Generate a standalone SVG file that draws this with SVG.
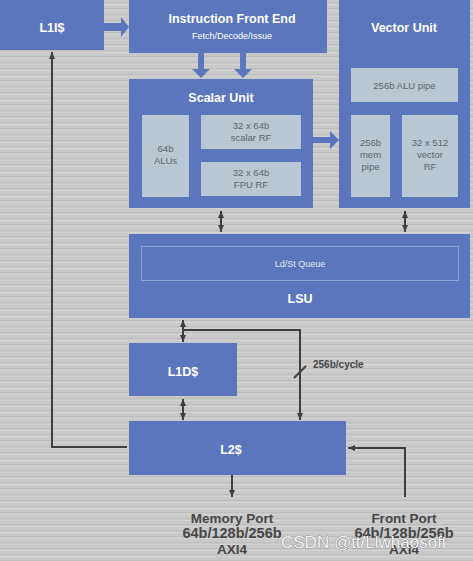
<svg xmlns="http://www.w3.org/2000/svg" width="473" height="561" viewBox="0 0 473 561">
<defs>
<style>
.blk{fill:#5b76bd}
.sub{fill:#b7c7d3}
.t{font-family:"Liberation Sans",Arial,sans-serif;fill:#ffffff;text-anchor:middle}
.tb{font-weight:bold;font-size:12.5px}
.ts{font-size:9px;fill:#ffffff}
.st{font-family:"Liberation Sans",Arial,sans-serif;font-size:9.5px;fill:#5a6670;text-anchor:middle}
.ln{stroke:#3f3f3f;stroke-width:2;fill:none}
.lbl{font-family:"Liberation Sans",Arial,sans-serif;font-weight:bold;fill:#474747;text-anchor:middle;font-size:13.5px}
</style>
<marker id="ah" markerWidth="8" markerHeight="8" refX="7" refY="4" orient="auto-start-reverse" markerUnits="userSpaceOnUse">
<path d="M0,1 L7,4 L0,7 Z" fill="#3f3f3f"/>
</marker>
<pattern id="bg" width="4" height="6" patternUnits="userSpaceOnUse">
<rect width="4" height="6" fill="#c9c9c9"/>
<rect y="2" width="4" height="1" fill="#bebebe"/>
<rect y="4" width="4" height="1" fill="#d3d3d3"/>
</pattern>
</defs>
<rect width="473" height="561" fill="url(#bg)"/>

<g id="connectors">
<path class="blk" d="M104,23 H121 V17 L129,27 L121,37 V31 H104 Z"/>
<path class="blk" d="M198,53 H204 V69 H210 L201,78 L192,69 H198 Z"/>
<path class="blk" d="M240,53 H246 V69 H252 L243,78 L234,69 H240 Z"/>
<path class="blk" d="M313,137 H330 V131 L339,140 L330,149 V143 H313 Z"/>
<line class="ln" x1="221" y1="211" x2="221" y2="232" marker-start="url(#ah)" marker-end="url(#ah)"/>
<line class="ln" x1="405" y1="211" x2="405" y2="232" marker-start="url(#ah)" marker-end="url(#ah)"/>
<line class="ln" x1="183" y1="320" x2="183" y2="342" marker-start="url(#ah)" marker-end="url(#ah)"/>
<line class="ln" x1="183" y1="399" x2="183" y2="420" marker-start="url(#ah)" marker-end="url(#ah)"/>
<path class="ln" d="M183,330 H300 V420" marker-end="url(#ah)"/>
<line class="ln" x1="294" y1="378" x2="306" y2="366"/>
<text class="lbl" x="313" y="368" style="font-size:10px;text-anchor:start">256b/cycle</text>
<path class="ln" d="M127,447 H52 V52" marker-end="url(#ah)"/>
<line class="ln" x1="232" y1="475" x2="232" y2="497" marker-end="url(#ah)"/>
<path class="ln" d="M405,497 V448 H348" marker-end="url(#ah)"/>
</g>

<g id="l1i">
<rect class="blk" x="0" y="0" width="104" height="50"/>
<text class="t tb" x="52" y="32">L1I$</text>
</g>

<g id="ife">
<rect class="blk" x="129" y="0" width="198" height="53"/>
<text class="t tb" x="232" y="23">Instruction Front End</text>
<text class="t ts" x="232" y="39">Fetch/Decode/Issue</text>
</g>

<g id="scalar">
<rect class="blk" x="129" y="79" width="184" height="129"/>
<text class="t tb" x="221" y="102">Scalar Unit</text>
<rect class="sub" x="142" y="115" width="47" height="82"/>
<text class="st" x="165.5" y="152">64b</text>
<text class="st" x="165.5" y="164">ALUs</text>
<rect class="sub" x="201" y="115" width="100" height="34"/>
<text class="st" x="251" y="129">32 x 64b</text>
<text class="st" x="251" y="141">scalar RF</text>
<rect class="sub" x="201" y="162" width="100" height="34"/>
<text class="st" x="251" y="176">32 x 64b</text>
<text class="st" x="251" y="188">FPU RF</text>
</g>

<g id="vector">
<rect class="blk" x="339" y="0" width="131" height="208"/>
<text class="t tb" x="404" y="32">Vector Unit</text>
<rect class="sub" x="351" y="68" width="107" height="34"/>
<text class="st" x="404.5" y="89">256b ALU pipe</text>
<rect class="sub" x="351" y="115" width="39" height="82"/>
<text class="st" x="370.5" y="146">256b</text>
<text class="st" x="370.5" y="158">mem</text>
<text class="st" x="370.5" y="170">pipe</text>
<rect class="sub" x="402" y="115" width="56" height="82"/>
<text class="st" x="430" y="146">32 x 512</text>
<text class="st" x="430" y="158">vector</text>
<text class="st" x="430" y="170">RF</text>
</g>

<g id="lsu">
<rect class="blk" x="129" y="234" width="341" height="84"/>
<rect x="141.5" y="246.5" width="317" height="34" fill="none" stroke="#8ea2d6" stroke-width="1"/>
<text class="t" x="300" y="267" style="font-size:9px;fill:#e4e9f5">Ld/St Queue</text>
<text class="t tb" x="300" y="303">LSU</text>
</g>

<g id="l1d">
<rect class="blk" x="129" y="343" width="108" height="53"/>
<text class="t tb" x="183" y="376">L1D$</text>
</g>

<g id="l2">
<rect class="blk" x="129" y="421" width="217" height="54"/>
<text class="t tb" x="231" y="454">L2$</text>
</g>

<g id="memport">
<text class="lbl" x="232" y="523">Memory Port</text>
<text class="lbl" x="232" y="538" style="font-size:14.5px">64b/128b/256b</text>
<text class="lbl" x="232" y="554">AXI4</text>
</g>

<g id="frontport">
<text class="lbl" x="404" y="523">Front Port</text>
<text class="lbl" x="404" y="538" style="font-size:14.5px">64b/128b/256b</text>
<text class="lbl" x="404" y="554">AXI4</text>
</g>

<text x="281" y="548" style="font-family:'Liberation Sans','Noto Sans CJK SC',sans-serif;font-size:17px;fill:#f4f4f4;stroke:#6a6a6a;stroke-width:0.6;paint-order:stroke">CSDN @tt/Llwhaosoft</text>
</svg>
